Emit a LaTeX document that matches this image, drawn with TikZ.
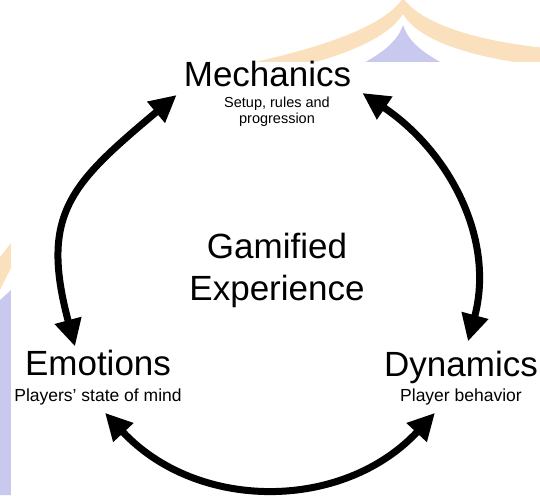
\documentclass[tikz,border=0pt]{standalone}
\usepackage{fontspec}
\setmainfont{Liberation Sans}
\usetikzlibrary{arrows.meta}
\definecolor{decoorange}{RGB}{251,224,190}
\definecolor{decopurple}{RGB}{201,201,240}

\begin{document}
\begin{tikzpicture}[x=1pt,y=1pt,
  heading/.style={font=\fontsize{35}{42}\selectfont,inner sep=0pt},
  subtext/.style={font=\fontsize{17.5}{19}\selectfont,inner sep=0pt,align=center},
  cycle arrow/.style={line width=7pt,{Triangle[length=27pt,width=26pt]}-{Triangle[length=27pt,width=26pt]}}]
  \useasboundingbox (0,0) rectangle (540,495);
  % page decoration behind the figure
  \fill[decoorange] (255,433) .. controls (330,450) and (385,470) .. (403,497)
    .. controls (420,473) and (470,455) .. (545,447) -- (545,429)
    .. controls (470,437) and (418,455) .. (403,481)
    .. controls (388,457) and (345,440) .. (300,429) -- cycle;
  \fill[decopurple] (358,429) .. controls (385,443) and (398,455) .. (403,470)
    .. controls (408,455) and (420,443) .. (448,429) -- cycle;
  \fill[decoorange] (0,205) -- (0,238) -- (11,252) -- (11,227) -- cycle;
  \fill[decopurple] (0,0) -- (0,195) -- (11,205) -- (11,0) -- cycle;
  \fill[white] (11,0) rectangle (540,433);

  \node[heading,anchor=base] (mech) at (267.5,408) {Mechanics};
  \node[subtext,font=\fontsize{14.5}{16}\selectfont] (mech-sub) at (277,383) {Setup, rules and\\progression};
  \node[heading,anchor=base] (emo) at (98,119) {Emotions};
  \node[subtext,anchor=base] (emo-sub) at (98,93) {Players' state of mind};
  \node[heading,anchor=base] (dyn) at (461,118) {Dynamics};
  \node[subtext,anchor=base] (dyn-sub) at (461,93) {Player behavior};
  \node[heading,align=center] (gam) at (277,225) {Gamified\\Experience};

  \draw[cycle arrow] ([shift={(-23,4)}]emo.north) to[out=105,in=220,looseness=1.3] ([shift={(-7,-8)}]mech.base west);
  \draw[cycle arrow] ([shift={(11,-6)}]mech.base east) to[out=-34,in=75] ([shift={(7,10)}]dyn.north);
  \draw[cycle arrow] ([shift={(7,-7)}]emo-sub.south) to[out=-47,in=-133,looseness=1.05] ([shift={(-26,-7)}]dyn-sub.south);
\end{tikzpicture}
\end{document}
